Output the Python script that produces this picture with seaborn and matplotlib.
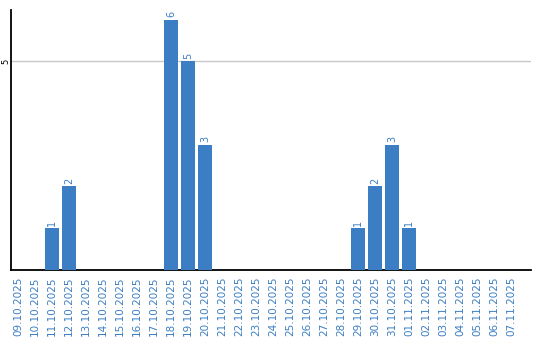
import matplotlib
matplotlib.use("Agg")
import matplotlib.pyplot as plt
import seaborn as sns
import pandas as pd

dates = ["09.10.2025", "10.10.2025", "11.10.2025", "12.10.2025", "13.10.2025",
         "14.10.2025", "15.10.2025", "16.10.2025", "17.10.2025", "18.10.2025",
         "19.10.2025", "20.10.2025", "21.10.2025", "22.10.2025", "23.10.2025",
         "24.10.2025", "25.10.2025", "26.10.2025", "27.10.2025", "28.10.2025",
         "29.10.2025", "30.10.2025", "31.10.2025", "01.11.2025", "02.11.2025",
         "03.11.2025", "04.11.2025", "05.11.2025", "06.11.2025", "07.11.2025"]
counts = [0, 0, 1, 2, 0, 0, 0, 0, 0, 6,
          5, 3, 0, 0, 0, 0, 0, 0, 0, 0,
          1, 2, 3, 1, 0, 0, 0, 0, 0, 0]
y_ticks = [5]

df = pd.DataFrame({"date": dates, "count": counts})

sns.set_style("white")
plt.rcParams['font.family'] = ['DejaVu Sans']

blue = "#3b7ec3"
fig = plt.figure(figsize=(5.4, 3.4), dpi=100)
ax = fig.add_axes([10.5 / 540, (340 - 269.5) / 340, 520 / 540, 259.5 / 340])

sns.barplot(data=df, x="date", y="count", color=blue, width=0.82,
            saturation=1, ax=ax, zorder=3, linewidth=0, edgecolor="none")

ax.set_xlim(-0.44, 30.15)
ax.set_ylim(0, 6.23)
ax.set_yticks(y_ticks)
ax.set_yticklabels([str(t) for t in y_ticks], rotation=90, va="center",
                   ha="center", fontsize=6, color="black")
ax.yaxis.grid(True, color="#c8c8c8", linewidth=1, zorder=0)
ax.set_axisbelow(True)
ax.tick_params(axis="y", length=0, pad=3)
ax.tick_params(axis="x", length=0, pad=5)
ax.set_xticks(range(len(dates)))
ax.set_xticklabels(dates, rotation=90, fontsize=7.5, color=blue, va="top")
ax.set_xlabel("")
ax.set_ylabel("")

for s in ["top", "right"]:
    ax.spines[s].set_visible(False)
for s in ["left", "bottom"]:
    ax.spines[s].set_color("black")
    ax.spines[s].set_linewidth(1.3)

for i, v in enumerate(counts):
    if v > 0:
        ax.text(i, v + 0.05, str(v), rotation=90, ha="center", va="bottom",
                fontsize=7, color=blue)

fig.savefig("out.png", dpi=100)
